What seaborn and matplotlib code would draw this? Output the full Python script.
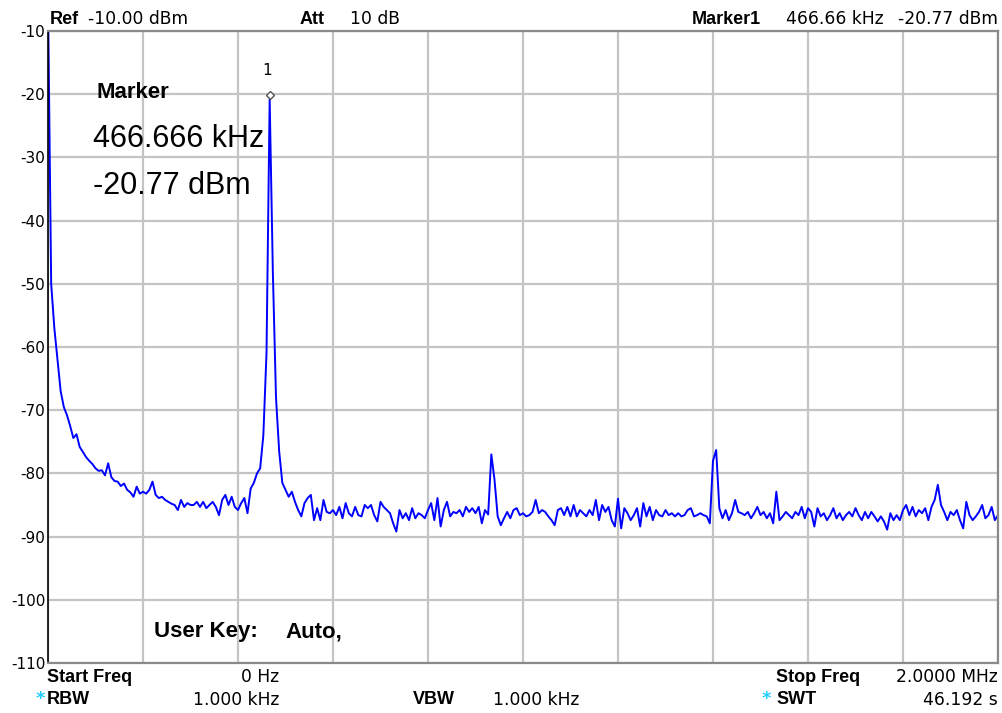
import numpy as np
import pandas as pd
import matplotlib
matplotlib.use("Agg")
import matplotlib.pyplot as plt
import seaborn as sns

# ---- data ----
start_khz = 0.0
stop_khz = 2000.0
n_points = 301
level_dbm = [
    -5, -50, -57, -62, -67, -69.5, -70.8, -72.5, -74.4, -73.8,
    -75.8, -76.6, -77.4, -78.0, -78.5, -79.2, -79.6, -79.5, -80.3, -78.4,
    -80.6, -81.2, -81.3, -82.0, -81.6, -82.6, -83.0, -83.7, -82.1, -83.2,
    -82.9, -83.2, -82.6, -81.3, -83.4, -83.9, -83.7, -84.2, -84.5, -84.8,
    -85.0, -85.8, -84.2, -85.3, -84.7, -85.0, -85.0, -84.5, -85.3, -84.5,
    -85.5, -85.0, -84.5, -85.3, -86.6, -84.2, -83.4, -85.0, -83.7, -85.3,
    -85.8, -84.7, -83.9, -86.3, -82.4, -81.5, -80.0, -79.2, -74.0, -61.0,
    -20.77, -48.0, -68.0, -76.5, -81.5, -82.6, -83.7, -82.9, -84.5, -85.8,
    -86.8, -84.7, -83.9, -83.4, -87.4, -85.5, -87.4, -84.2, -86.1, -86.3,
    -85.8, -86.6, -85.3, -87.1, -84.7, -86.3, -86.8, -85.3, -86.6, -86.8,
    -85.0, -85.5, -85.0, -86.6, -87.6, -84.5, -85.3, -85.8, -86.3, -87.9,
    -89.2, -85.8, -87.1, -86.3, -87.4, -85.5, -87.1, -86.3, -86.6, -87.1,
    -85.8, -84.7, -87.4, -83.9, -88.4, -85.8, -84.5, -86.8, -86.1, -86.3,
    -85.8, -86.8, -85.3, -86.1, -85.5, -86.3, -85.3, -87.9, -85.8, -86.5,
    -77.0, -81.0, -86.8, -88.2, -87.1, -86.1, -87.1, -85.8, -85.5, -86.6,
    -86.3, -86.8, -86.6, -86.1, -84.2, -86.3, -85.8, -86.1, -86.8, -87.4,
    -88.2, -85.8, -85.5, -86.6, -85.3, -86.8, -85.0, -86.8, -85.8, -86.3,
    -86.8, -85.8, -86.6, -84.2, -87.4, -85.0, -86.1, -85.3, -87.4, -88.4,
    -84.0, -88.7, -85.5, -86.3, -87.4, -86.6, -85.5, -88.4, -84.7, -86.8,
    -85.3, -87.4, -85.8, -86.6, -86.8, -85.8, -86.6, -86.3, -86.8, -86.3,
    -86.8, -86.6, -85.8, -85.5, -86.8, -86.6, -86.3, -86.6, -86.8, -87.9,
    -78.0, -76.3, -85.5, -87.1, -85.8, -87.4, -86.3, -84.2, -86.1, -86.3,
    -86.6, -86.1, -87.1, -86.3, -85.3, -86.6, -86.1, -87.1, -86.3, -87.9,
    -82.9, -87.4, -86.8, -86.1, -86.6, -87.1, -86.1, -86.6, -85.3, -87.1,
    -85.5, -86.1, -88.4, -85.5, -86.8, -86.3, -87.4, -86.6, -85.5, -87.1,
    -86.3, -87.4, -86.6, -86.1, -86.8, -85.5, -86.6, -87.4, -86.1, -87.1,
    -86.1, -86.8, -87.6, -86.8, -87.6, -88.9, -86.3, -87.4, -86.6, -87.4,
    -85.8, -85.0, -86.6, -85.3, -86.8, -85.8, -86.3, -85.5, -87.4, -85.3,
    -84.2, -81.8, -85.0, -86.1, -87.4, -86.1, -86.6, -85.8, -87.4, -88.7,
    -84.5, -86.6, -87.4, -86.8, -86.1, -85.0, -87.1, -86.6, -85.3, -87.4, -86.6,
]
marker_freq_khz = 466.666
marker_level_dbm = -20.77
y_ticks = [-10, -20, -30, -40, -50, -60, -70, -80, -90, -100, -110]

freq_khz = np.linspace(start_khz, stop_khz, n_points)
df = pd.DataFrame({"freq": freq_khz, "level": level_dbm})

# ---- figure ----
sns.set_style("white")
plt.rcParams["font.family"] = ["DejaVu Sans"]
plt.rcParams["text.color"] = "black"
plt.rcParams["ytick.color"] = "black"
plt.rcParams["xtick.color"] = "black"

W, H = 1003, 713
fig = plt.figure(figsize=(W / 100, H / 100), dpi=100)
ax = fig.add_axes([48 / W, 1 - 663 / H, 950 / W, 632 / H])

ax.set_xlim(start_khz, stop_khz)
ax.set_ylim(-110, -10)
ax.set_xticks(np.linspace(start_khz, stop_khz, 11))
ax.set_yticks(y_ticks)
ax.set_xticklabels([])
ax.set_yticklabels([str(v) for v in y_ticks], fontsize=11, color="black")
ax.tick_params(axis="both", length=0, pad=2, labelcolor="black")
ax.grid(True, color="#c4c4c4", linewidth=1.6)
ax.set_axisbelow(True)
for name, sp in ax.spines.items():
    sp.set_color("#8a8a8a")
    sp.set_linewidth(1.6)
ax.spines["left"].set_color("#000000")
ax.spines["left"].set_linewidth(1.2)

sns.lineplot(data=df, x="freq", y="level", ax=ax, color="#0000ff",
             linewidth=1.4, estimator=None, clip_on=True)
ax.set_xlabel("")
ax.set_ylabel("")

# marker
ax.plot([marker_freq_khz], [marker_level_dbm + 0.6], marker="D", markersize=4.5,
        markerfacecolor="white", markeredgecolor="#555555", markeredgewidth=1.0,
        zorder=5)
ax.text(marker_freq_khz - 6, -16.3, "1", fontsize=11, ha="center", va="center",
        color="black")


def px(x, y):
    return x / W, 1 - y / H


bold = dict(family=["Liberation Sans", "DejaVu Sans"], fontweight="bold",
            color="black")
reg_big = dict(family=["Liberation Sans", "DejaVu Sans"], color="black")
reg = dict(color="black")

fig.text(*px(96, 92), "Marker", fontsize=16, va="center", ha="left", **bold)
fig.text(*px(93, 139), "466.666 kHz", fontsize=22, va="center", ha="left", **reg_big)
fig.text(*px(93, 186), "-20.77 dBm", fontsize=22, va="center", ha="left", **reg_big)
fig.text(*px(154, 632), "User Key:", fontsize=16, va="center", ha="left", **bold)
fig.text(*px(285, 632), "Auto,", fontsize=16, va="center", ha="left", **bold)

# header
fs_b = 13
fs_r = 12.3
fig.text(*px(50, 19), "Ref", fontsize=fs_b, va="center", ha="left", **bold)
fig.text(*px(88, 19), "-10.00 dBm", fontsize=fs_r, va="center", ha="left", **reg)
fig.text(*px(300, 19), "Att", fontsize=fs_b, va="center", ha="left", **bold)
fig.text(*px(350, 19), "10 dB", fontsize=fs_r, va="center", ha="left", **reg)
fig.text(*px(692, 19), "Marker1", fontsize=fs_b, va="center", ha="left", **bold)
fig.text(*px(786, 19), "466.66 kHz", fontsize=fs_r, va="center", ha="left", **reg)
fig.text(*px(998, 19), "-20.77 dBm", fontsize=fs_r, va="center", ha="right", **reg)

# footer
fig.text(*px(47, 677), "Start Freq", fontsize=fs_b, va="center", ha="left", **bold)
fig.text(*px(279, 677), "0 Hz", fontsize=fs_r, va="center", ha="right", **reg)
fig.text(*px(776, 677), "Stop Freq", fontsize=fs_b, va="center", ha="left", **bold)
fig.text(*px(998, 677), "2.0000 MHz", fontsize=fs_r, va="center", ha="right", **reg)

fig.text(*px(40, 699), "*", fontsize=13, va="center", ha="center", color="#22ccff",
         fontweight="bold")
fig.text(*px(47, 700), "RBW", fontsize=fs_b, va="center", ha="left", **bold)
fig.text(*px(279, 700), "1.000 kHz", fontsize=fs_r, va="center", ha="right", **reg)
fig.text(*px(413, 700), "VBW", fontsize=fs_b, va="center", ha="left", **bold)
fig.text(*px(579, 700), "1.000 kHz", fontsize=fs_r, va="center", ha="right", **reg)
fig.text(*px(766, 699), "*", fontsize=13, va="center", ha="center", color="#22ccff",
         fontweight="bold")
fig.text(*px(776, 700), "SWT", fontsize=fs_b, va="center", ha="left", **bold)
fig.text(*px(998, 700), "46.192 s", fontsize=fs_r, va="center", ha="right", **reg)

fig.savefig("out.png", dpi=100, facecolor="white")
